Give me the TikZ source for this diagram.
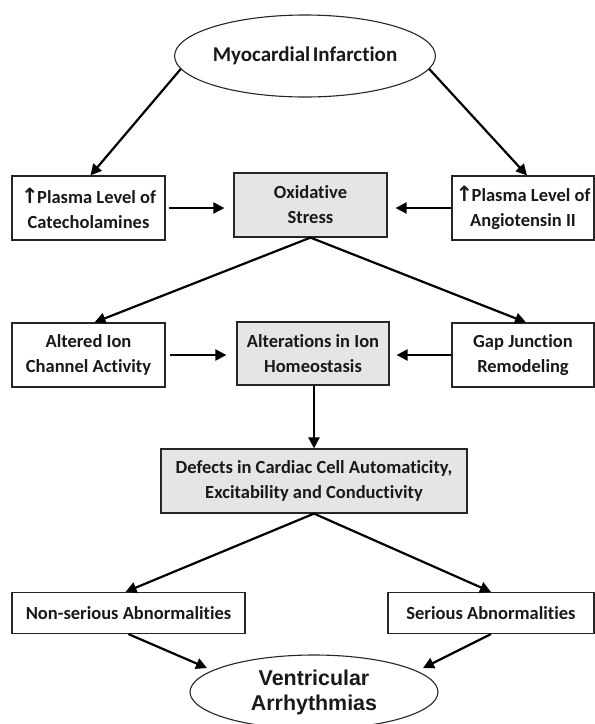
\documentclass[tikz,border=0pt]{standalone}
\usepackage{fontspec}
\usetikzlibrary{shapes.geometric,arrows.meta,calc}
\newfontfamily\carl{Carlito}[Ligatures=NoCommon]
\newfontfamily\djv{DejaVu Sans}
\newfontfamily\arialish{Liberation Sans}
\newcommand\boxfont{\carl\bfseries\fontsize{18.5}{25}\selectfont}
\newcommand\uparr{{\djv\bfseries\fontsize{21}{25}\selectfont ↑}\kern-1.5pt}
\tikzset{
  box/.style={draw=black!85, line width=1.2pt, inner sep=0pt, align=center, font=\boxfont, text=black!90},
  gbox/.style={box, fill=black!10},
  oval/.style={ellipse, draw=black!85, line width=1.1pt, inner sep=0pt, align=center, text=black!90},
  arr/.style={line width=2.2pt, draw=black, -{Triangle[length=11pt,width=11pt]}},
}
\begin{document}
\begin{tikzpicture}[x=1pt,y=-1pt]
\useasboundingbox[fill=white] (0,0) rectangle (595,724);

\node[oval, minimum width=246pt, minimum height=82pt, font=\carl\bfseries\fontsize{21}{25}\selectfont] (mi) at (305,56) {Myocardial\hspace{0.12em}Infarction};

\node[box, minimum width=153pt, minimum height=64pt] (cat) at (88.5,208) {\uparr Plasma Level of\\Catecholamines};
\node[gbox, minimum width=153pt, minimum height=64pt] (oxi) at (310.5,205) {Oxidative\\Stress};
\node[box, minimum width=142pt, minimum height=64pt] (ang) at (523,208) {\uparr Plasma Level of\\Angiotensin II};

\node[box, minimum width=153pt, minimum height=64pt] (alt) at (88.5,355) {Altered Ion\\Channel Activity};
\node[gbox, minimum width=152pt, minimum height=63pt] (hom) at (313,353.5) {Alterations in Ion\\Homeostasis};
\node[box, minimum width=142pt, minimum height=64pt] (gap) at (523,355) {Gap Junction\\Remodeling};

\node[gbox, minimum width=306pt, minimum height=64pt] (def) at (314,481) {Defects in Cardiac Cell Automaticity,\\Excitability and Conductivity};

\node[box, minimum width=233pt, minimum height=41pt] (non) at (128.5,613) {Non-serious Abnormalities};
\node[box, minimum width=206pt, minimum height=41pt] (ser) at (491,613) {Serious Abnormalities};

\node[oval, minimum width=248pt, minimum height=74pt, font=\arialish\bfseries\fontsize{21.4}{25}\selectfont] (va) at (314,692) {Ventricular\\Arrhythmias};

\draw[arr] (mi.186) -- ($(cat.north)+(2,0)$);
\draw[arr] (mi.-6) -- ($(ang.north)+(4,0)$);
\draw[arr, shorten <=3pt, shorten >=9pt] (cat.east) -- (cat.east -| oxi.west);
\draw[arr, shorten >=8pt] (ang.west) -- (ang.west -| oxi.east);
\draw[arr] (oxi.south) -- ($(alt.north)+(6,0)$);
\draw[arr] (oxi.south) -- ($(gap.north)+(3,0)$);
\draw[arr, shorten <=4pt, shorten >=10pt] (alt.east) -- (alt.east -| hom.west);
\draw[arr, shorten >=7pt] (gap.west) -- (gap.west -| hom.east);
\draw[arr] (def.north |- hom.south) -- (def.north);
\draw[arr] (def.south) -- ($(non.north)+(-3,0)$);
\draw[arr] (def.south) -- (ser.north);
\draw[arr] (non.south) -- ($(va.center)+(-107,-24)$);
\draw[arr] (ser.south) -- ($(va.center)+(109,-24)$);
\end{tikzpicture}
\end{document}
